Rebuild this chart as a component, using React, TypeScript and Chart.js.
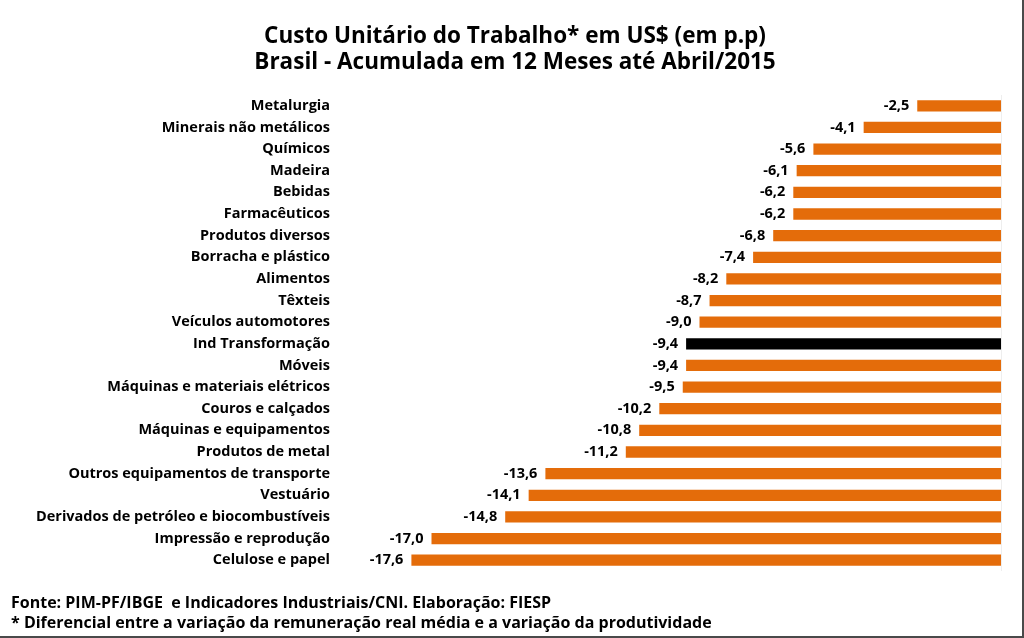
import { useEffect, useRef } from "react";
import { Chart, registerables } from "chart.js";

Chart.register(...registerables);

const categories = [
  "Metalurgia",
  "Minerais não metálicos",
  "Químicos",
  "Madeira",
  "Bebidas",
  "Farmacêuticos",
  "Produtos diversos",
  "Borracha e plástico",
  "Alimentos",
  "Têxteis",
  "Veículos automotores",
  "Ind Transformação",
  "Móveis",
  "Máquinas e materiais elétricos",
  "Couros e calçados",
  "Máquinas e equipamentos",
  "Produtos de metal",
  "Outros equipamentos de transporte",
  "Vestuário",
  "Derivados de petróleo e biocombustíveis",
  "Impressão e reprodução",
  "Celulose e papel",
];

const values = [
  -2.5, -4.1, -5.6, -6.1, -6.2, -6.2, -6.8, -7.4, -8.2, -8.7, -9.0, -9.4, -9.4,
  -9.5, -10.2, -10.8, -11.2, -13.6, -14.1, -14.8, -17.0, -17.6,
];

const highlightCategory = "Ind Transformação";

const titleLines = [
  "Custo Unitário do Trabalho* em US$ (em p.p)",
  "Brasil - Acumulada em 12 Meses até Abril/2015",
];

const footerLines = [
  "Fonte: PIM-PF/IBGE  e Indicadores Industriais/CNI. Elaboração: FIESP",
  "* Diferencial entre a variação da remuneração real média e a variação da produtividade",
];

const FONT = "'Open Sans', Lato, sans-serif";
const ORANGE = "#E46C0A";

const fmt = (v: number) => v.toFixed(1).replace(".", ",");

export default function App() {
  const ref = useRef<HTMLCanvasElement | null>(null);

  useEffect(() => {
    if (!ref.current) return;

    const decor = {
      id: "decor",
      beforeDraw(chart: any) {
        const ctx = chart.ctx;
        ctx.save();
        ctx.fillStyle = "#ffffff";
        ctx.fillRect(0, 0, chart.width, chart.height);
        const x0 = chart.scales.x.getPixelForValue(0);
        ctx.strokeStyle = "#eeeeee";
        ctx.lineWidth = 1;
        ctx.beginPath();
        ctx.moveTo(x0 + 0.5, chart.chartArea.top);
        ctx.lineTo(x0 + 0.5, chart.chartArea.bottom);
        ctx.stroke();
        ctx.restore();
      },
      afterDraw(chart: any) {
        const ctx = chart.ctx;
        ctx.save();
        ctx.fillStyle = "#000000";
        ctx.textAlign = "center";
        ctx.textBaseline = "middle";
        ctx.font = `bold 22.5px ${FONT}`;
        titleLines.forEach((t, i) => ctx.fillText(t, 515, 37 + i * 26));
        ctx.textAlign = "left";
        ctx.font = `bold 16px ${FONT}`;
        footerLines.forEach((t, i) => ctx.fillText(t, 11, 603 + i * 20));
        const meta = chart.getDatasetMeta(0);
        ctx.textAlign = "right";
        ctx.font = `bold 14.5px ${FONT}`;
        meta.data.forEach((bar: any, i: number) => {
          const left = Math.min(bar.x, bar.base);
          ctx.fillText(fmt(values[i]), left - 8, bar.y);
        });
        ctx.strokeStyle = "#4a4a4a";
        ctx.lineWidth = 2;
        ctx.beginPath();
        ctx.moveTo(1023, 0);
        ctx.lineTo(1023, 637);
        ctx.lineTo(0, 637);
        ctx.stroke();
        ctx.restore();
      },
    };

    const chart = new Chart(ref.current, {
      type: "bar",
      data: {
        labels: categories,
        datasets: [
          {
            data: values,
            backgroundColor: categories.map((c) =>
              c === highlightCategory ? "#000000" : ORANGE
            ),
            borderWidth: 0,
            categoryPercentage: 1,
            barPercentage: 0.52,
          },
        ],
      },
      options: {
        indexAxis: "y",
        animation: false,
        responsive: false,
        maintainAspectRatio: false,
        layout: { padding: { top: 95, bottom: 67, right: 23, left: 0 } },
        plugins: {
          legend: { display: false },
          title: { display: false },
          tooltip: { enabled: false },
        },
        scales: {
          x: {
            display: false,
            min: -20,
            max: 0,
          },
          y: {
            grid: { display: false, drawTicks: false },
            border: { display: false },
            ticks: {
              color: "#000000",
              padding: 1,
              font: { family: FONT, size: 14.5, weight: "bold" },
            },
            afterFit(scale: any) {
              scale.width = 331;
            },
          },
        },
      },
      plugins: [decor],
    } as any);

    return () => chart.destroy();
  }, []);

  return (
    <div
      style={{
        position: "fixed",
        left: 0,
        top: 0,
        width: 1024,
        height: 638,
        background: "#fff",
      }}
    >
      <canvas ref={ref} width={1024} height={638} style={{ display: "block" }} />
    </div>
  );
}
